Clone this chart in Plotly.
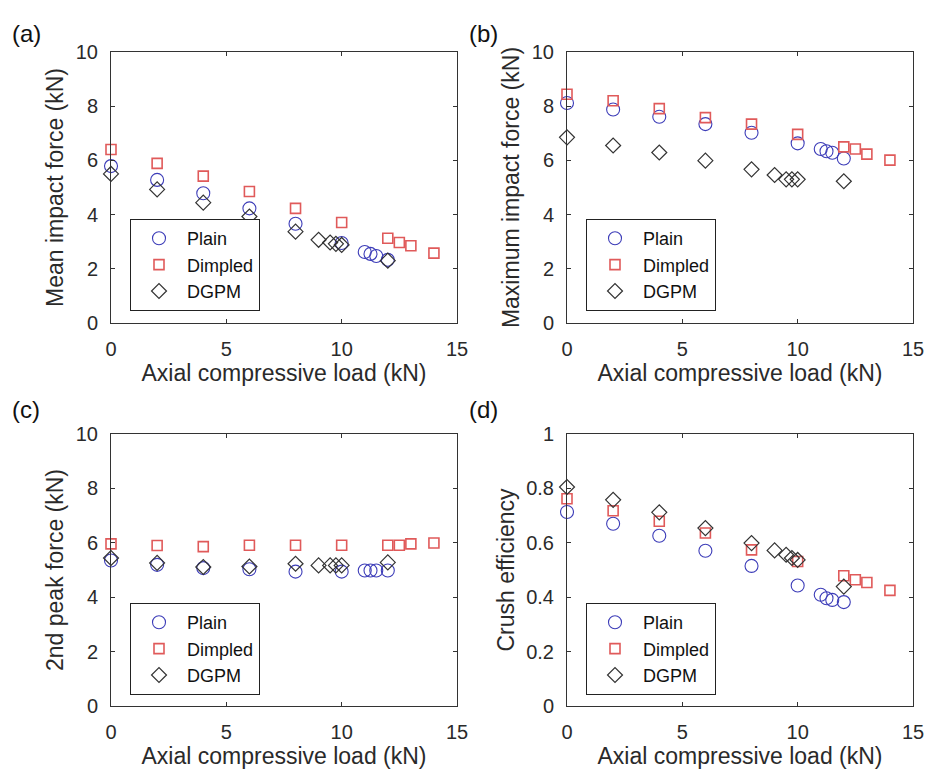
import plotly.graph_objects as go

# ---------------- data ----------------
load_plain = [0, 2, 4, 6, 8, 10, 11, 11.25, 11.5, 12]
load_dimpled = [0, 2, 4, 6, 8, 10, 12, 12.5, 13, 14]
load_dgpm = [0, 2, 4, 6, 8, 9, 9.5, 9.75, 10, 12]

mean_plain = [5.79, 5.28, 4.79, 4.23, 3.66, 2.95, 2.62, 2.55, 2.47, 2.33]
mean_dimpled = [6.40, 5.89, 5.42, 4.85, 4.23, 3.71, 3.13, 2.97, 2.85, 2.58]
mean_dgpm = [5.50, 4.93, 4.44, 3.93, 3.37, 3.07, 2.97, 2.92, 2.88, 2.30]

max_plain = [8.12, 7.88, 7.61, 7.34, 7.02, 6.63, 6.42, 6.34, 6.28, 6.07]
max_dimpled = [8.44, 8.20, 7.91, 7.58, 7.34, 6.96, 6.50, 6.42, 6.23, 6.01]
max_dgpm = [6.85, 6.55, 6.29, 5.99, 5.67, 5.46, 5.30, 5.30, 5.30, 5.23]

peak2_plain = [5.35, 5.19, 5.07, 5.03, 4.94, 4.94, 4.98, 4.98, 4.98, 4.98]
peak2_dimpled = [5.96, 5.90, 5.86, 5.91, 5.91, 5.91, 5.91, 5.91, 5.96, 5.99]
peak2_dgpm = [5.44, 5.26, 5.11, 5.13, 5.23, 5.17, 5.17, 5.17, 5.17, 5.28]

ce_plain = [0.713, 0.670, 0.626, 0.571, 0.515, 0.443, 0.409, 0.396, 0.390, 0.382]
ce_dimpled = [0.762, 0.718, 0.679, 0.636, 0.574, 0.531, 0.479, 0.464, 0.454, 0.425]
ce_dgpm = [0.805, 0.758, 0.712, 0.654, 0.599, 0.572, 0.556, 0.544, 0.537, 0.439]

series_names = ["Plain", "Dimpled", "DGPM"]
panel_labels = ["(a)", "(b)", "(c)", "(d)"]
y_titles = ["Mean impact force (kN)", "Maximum impact force (kN)",
            "2nd peak force (kN)", "Crush efficiency"]
x_title = "Axial compressive load (kN)"
x_ticks = [0, 5, 10, 15]
y_ticks_force = [0, 2, 4, 6, 8, 10]
y_ticks_ce = [0, 0.2, 0.4, 0.6, 0.8, 1]

# ---------------- styling ----------------
FONT = "Liberation Sans, Arial, sans-serif"
TXT = "#2a2a2a"
styles = [
    dict(symbol="circle-open", size=13, color="#3c3cb8", lw=1.1),
    dict(symbol="square-open", size=10, color="#e05a5a", lw=1.6),
    dict(symbol="diamond-open", size=11.5, color="#333333", lw=1.2),
]

panels = [
    ([load_plain, load_dimpled, load_dgpm], [mean_plain, mean_dimpled, mean_dgpm], y_ticks_force, [0, 10]),
    ([load_plain, load_dimpled, load_dgpm], [max_plain, max_dimpled, max_dgpm], y_ticks_force, [0, 10]),
    ([load_plain, load_dimpled, load_dgpm], [peak2_plain, peak2_dimpled, peak2_dgpm], y_ticks_force, [0, 10]),
    ([load_plain, load_dimpled, load_dgpm], [ce_plain, ce_dimpled, ce_dgpm], y_ticks_ce, [0, 1]),
]

W, H = 926, 778
xdoms = [[111 / W, 457 / W], [567 / W, 913 / W], [111 / W, 457 / W], [567 / W, 913 / W]]
ydoms = [[1 - 323 / H, 1 - 52 / H], [1 - 323 / H, 1 - 52 / H],
         [1 - 706 / H, 1 - 434 / H], [1 - 706 / H, 1 - 434 / H]]
legend_pos = [(130 / W, 1 - 219 / H), (586 / W, 1 - 219 / H),
              (130 / W, 1 - 603 / H), (586 / W, 1 - 603 / H)]
label_pos = [(26 / W, 1 - 33 / H), (484 / W, 1 - 33 / H),
             (26 / W, 1 - 409 / H), (484 / W, 1 - 409 / H)]

fig = go.Figure()
layout = dict(
    width=W, height=H,
    margin=dict(l=0, r=0, t=0, b=0, pad=0, autoexpand=False),
    paper_bgcolor="white", plot_bgcolor="white",
    font=dict(family=FONT, size=20, color=TXT),
    showlegend=True,
    annotations=[],
)

for i, (xs, ys, yt, yr) in enumerate(panels):
    n = i + 1
    xa = "x" if n == 1 else f"x{n}"
    ya = "y" if n == 1 else f"y{n}"
    lg = "legend" if n == 1 else f"legend{n}"
    for j in range(3):
        st = styles[j]
        fig.add_trace(go.Scatter(
            x=xs[j], y=ys[j], mode="markers", name=series_names[j],
            xaxis=xa, yaxis=ya, legend=lg, cliponaxis=False,
            marker=dict(symbol=st["symbol"], size=st["size"], color=st["color"],
                        line=dict(width=st["lw"], color=st["color"])),
        ))
    axkw = dict(showgrid=False, zeroline=False, showline=True, linecolor="#333333",
                linewidth=1, mirror="ticks", ticks="inside", ticklen=4,
                tickcolor="#333333", automargin=False,
                tickfont=dict(family=FONT, size=20, color=TXT))
    layout[f"xaxis{'' if n == 1 else n}"] = dict(
        domain=xdoms[i], anchor=ya, range=[0, 15], tickvals=x_ticks,
        title=dict(text=x_title, font=dict(family=FONT, size=23, color=TXT), standoff=5),
        ticklabelstandoff=8, **axkw)
    layout[f"yaxis{'' if n == 1 else n}"] = dict(
        domain=ydoms[i], anchor=xa, range=yr, tickvals=yt,
        title=dict(text=y_titles[i], font=dict(family=FONT, size=23, color=TXT), standoff=5),
        ticklabelstandoff=8, **axkw)
    layout[lg] = dict(
        x=legend_pos[i][0], y=legend_pos[i][1], xanchor="left", yanchor="top",
        xref="paper", yref="paper",
        bgcolor="white", bordercolor="#222222", borderwidth=1,
        font=dict(family=FONT, size=18, color="#111111"),
        itemwidth=46,
    )
    layout["annotations"].append(dict(
        text=panel_labels[i], x=label_pos[i][0], y=label_pos[i][1],
        xanchor="center", yanchor="middle",
        xref="paper", yref="paper", showarrow=False,
        font=dict(family=FONT, size=24, color="#111111")))

fig.update_layout(**layout)
fig.write_html("out.html")
